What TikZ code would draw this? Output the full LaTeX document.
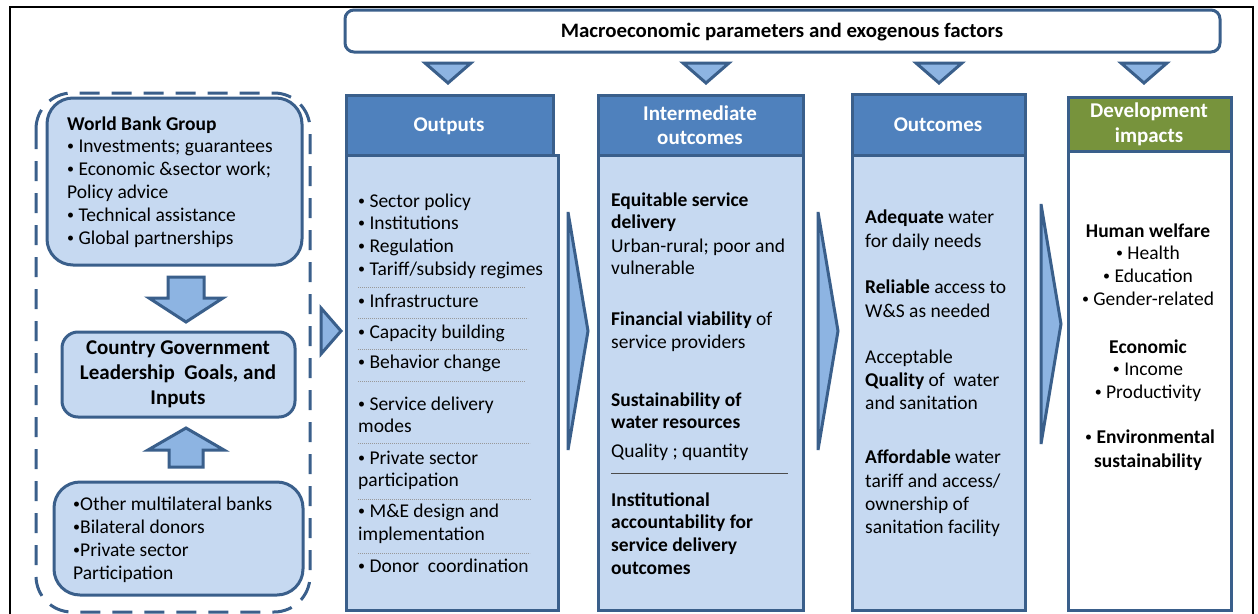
\documentclass[tikz,border=0pt]{standalone}
\usepackage{fontspec}
\setmainfont{Carlito}
\definecolor{bdr}{HTML}{3A5F8B}
\definecolor{hdrblue}{HTML}{4F81BD}
\definecolor{bodyblue}{HTML}{C6D9F1}
\definecolor{arrblue}{HTML}{8DB4E2}
\definecolor{hdrgreen}{HTML}{77933C}
\newcommand\fs{\fontsize{19.5}{23}\selectfont}
\newcommand\hfs{\fontsize{21}{24}\selectfont}
\newcommand\bul{\raisebox{1.6pt}{\fontsize{14}{14}\selectfont\mdseries•}}
\newcounter{tn}
\newcommand\LT[4][]{\stepcounter{tn}\node[txt,anchor=base west,#1] (t\arabic{tn}) at (#2,#3) {#4};}
\newcommand\CT[4][]{\stepcounter{tn}\node[txt,anchor=base,#1] (t\arabic{tn}) at (#2,#3) {#4};}
\newcommand\SEP[3]{\draw[sepline] (#1,#3) -- (#2,#3);}
\begin{document}
\begin{tikzpicture}[x=1pt,y=-1pt,
  bd/.style={draw=bdr, line width=3pt},
  hdrbox/.style={bd, fill=hdrblue},
  bodybox/.style={bd, fill=bodyblue},
  arrshape/.style={bd, fill=arrblue, line join=miter},
  leftbox/.style={bd, fill=bodyblue},
  txt/.style={inner sep=0pt, font=\fs, text=black},
  htxt/.style={inner sep=0pt, font=\hfs\bfseries, text=white},
  sepline/.style={draw=gray!80, line width=0.7pt, dash pattern=on 1.2pt off 0.8pt}]
\useasboundingbox (0,0) rectangle (1258,613);
\fill[white] (0,0) rectangle (1258,613);
% outer frame
\draw[black, line width=2.2pt] (10,640) -- (10,7) -- (1253,7) -- (1253,640);

% top box
\draw[bd, fill=white, rounded corners=9pt] (345,10) rectangle (1220,52);
\node[inner sep=0pt, font=\fontsize{20.5}{24}\selectfont\bfseries, anchor=base, xscale=1.02] (title) at (782,37) {Macroeconomic parameters and exogenous factors};

% small down triangles
\foreach \cx [count=\i] in {448,706,939,1144}{
  \draw[arrshape] (\cx-23,63) -- (\cx+23,63) -- (\cx,83) -- cycle;
}

% columns
\draw[bodybox] (346,155) rectangle (558,610);
\draw[hdrbox] (346,95) rectangle (553,155);
\draw[bodybox] (598,155) rectangle (803,610);
\draw[hdrbox] (598,95) rectangle (803,155);
\draw[bodybox] (852,155) rectangle (1025,610);
\draw[hdrbox] (852,94) rectangle (1025,155);
\draw[bd, fill=white] (1068,151) rectangle (1231,610);
\draw[bd, fill=hdrgreen] (1068,97) rectangle (1231,151);

% big right arrows
\draw[arrshape] (568,212) -- (588,331) -- (568,450) -- cycle;
\draw[arrshape] (818,212) -- (838,331) -- (818,450) -- cycle;
\draw[arrshape] (1041,204) -- (1061,324) -- (1041,444) -- cycle;
% small right arrow
\draw[arrshape] (321,308) -- (341,331) -- (321,354) -- cycle;

% left dashed group
\draw[bd, dash pattern=on 20pt off 12pt, rounded corners=36pt] (36,93) rectangle (310,612);
\draw[leftbox, rounded corners=26pt] (47,98) rectangle (302,265);
\draw[leftbox, rounded corners=16pt] (62,332) rectangle (295,417);
\draw[leftbox, rounded corners=26pt] (54,482) rectangle (303,595);
\draw[arrshape] (168,277) -- (204,277) -- (204,298) -- (223,298) -- (186,322) -- (149,298) -- (168,298) -- cycle;
\draw[arrshape] (169,467) -- (203,467) -- (203,450) -- (224,450) -- (186,428) -- (148,450) -- (169,450) -- cycle;

% headers
\CT[htxt]{449}{131}{Outputs}
\CT[htxt]{700}{120}{Intermediate}
\CT[htxt]{700}{144}{outcomes}
\CT[htxt]{938}{131}{Outcomes}
\CT[htxt]{1149}{117}{Development}
\CT[htxt]{1149}{142}{impacts}

% left boxes text
\LT{67}{130}{\textbf{World Bank Group}}
\LT{67}{152}{\bul\ Investments; guarantees}
\LT{67}{175}{\bul\ Economic \&sector work;}
\LT{67}{198}{Policy advice}
\LT{67}{221}{\bul\ Technical assistance}
\LT{67}{244}{\bul\ Global partnerships}
\CT[font=\hfs\bfseries]{178}{354}{Country Government}
\CT[font=\hfs\bfseries]{178}{379}{Leadership\ \ Goals, and}
\CT[font=\hfs\bfseries]{178}{404}{Inputs}
\LT{73}{510}{\bul Other multilateral banks}
\LT{73}{533}{\bul Bilateral donors}
\LT{73}{556}{\bul Private sector}
\LT{73}{579}{Participation}

% outputs text
\LT{358}{207}{\bul\ Sector policy}
\LT{358}{229}{\bul\ Institutions}
\LT{358}{252}{\bul\ Regulation}
\LT{358}{275}{\bul\ Tariff/subsidy regimes}
\SEP{358}{525}{287}
\LT{358}{307}{\bul\ Infrastructure}
\SEP{358}{528}{318}
\LT{358}{338}{\bul\ Capacity building}
\SEP{358}{528}{349}
\LT{358}{368}{\bul\ Behavior change}
\SEP{358}{525}{381}
\LT{358}{410}{\bul\ Service delivery}
\LT{358}{432}{modes}
\SEP{358}{530}{443}
\LT{358}{464}{\bul\ Private sector}
\LT{358}{486}{participation}
\SEP{358}{531}{499}
\LT{358}{517}{\bul\ M\&E design and}
\LT{358}{540}{implementation}
\SEP{358}{530}{553}
\LT{358}{572}{\bul\ Donor\ \ coordination}

% intermediate outcomes text
\LT{611}{206}{\textbf{Equitable service}}
\LT{611}{228}{\textbf{delivery}}
\LT{611}{252}{Urban-rural; poor and}
\LT{611}{274}{vulnerable}
\LT{611}{325}{\textbf{Financial viability} of}
\LT{611}{348}{service providers}
\LT{611}{406}{\textbf{Sustainability of}}
\LT{611}{428}{\textbf{water resources}}
\LT{611}{457}{Quality ; quantity}
\draw[black!70, line width=0.6pt] (611,473) -- (788,473);
\LT{611}{506}{\textbf{Institutional}}
\LT{611}{528}{\textbf{accountability for}}
\LT{611}{551}{\textbf{service delivery}}
\LT{611}{574}{\textbf{outcomes}}

% outcomes text
\LT{865}{223}{\textbf{Adequate} water}
\LT{865}{247}{for daily needs}
\LT{865}{293}{\textbf{Reliable} access to}
\LT{865}{317}{W\&S as needed}
\LT{865}{363}{Acceptable}
\LT{865}{386}{\textbf{Quality} of\ \ water}
\LT{865}{409}{and sanitation}
\LT{865}{463}{\textbf{Affordable} water}
\LT{865}{487}{tariff and access/}
\LT{865}{510}{ownership of}
\LT{865}{533}{sanitation facility}

% development impacts text
\CT{1148}{237}{\textbf{Human welfare}}
\CT{1148}{259}{\bul\ Health}
\CT{1148}{282}{\bul\ Education}
\CT{1148}{305}{\bul\ Gender-related}
\CT{1148}{353}{\textbf{Economic}}
\CT{1148}{375}{\bul\ Income}
\CT{1148}{398}{\bul\ Productivity}
\LT{1085}{443}{\bul\ \textbf{Environmental}}
\LT{1094}{467}{\textbf{sustainability}}
\end{tikzpicture}
\end{document}
